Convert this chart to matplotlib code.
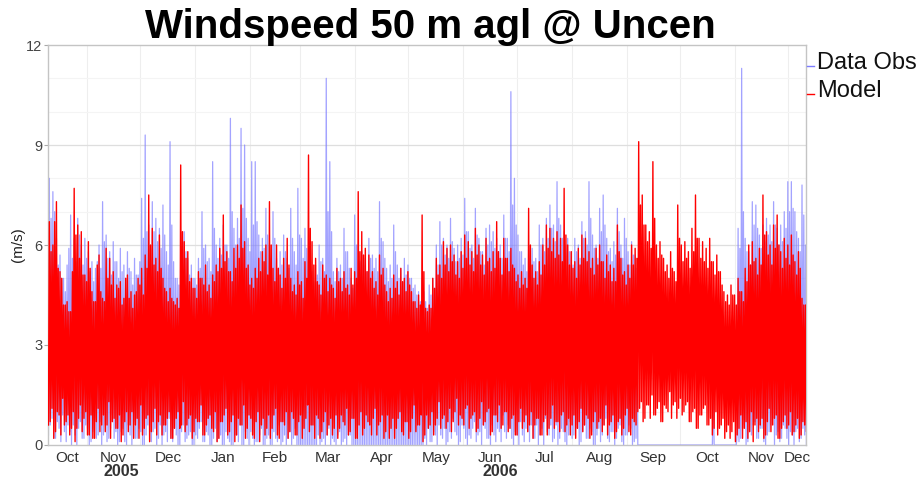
import numpy as np
import matplotlib
matplotlib.use('Agg')
import matplotlib.pyplot as plt
import matplotlib.dates as mdates
import matplotlib.transforms as mtransforms
from matplotlib.lines import Line2D
from datetime import date

plt.rcParams['font.family'] = ['Liberation Sans', 'DejaVu Sans']

# ---------------- data (2-day bins) ----------------
START = date(2005, 10, 10)
END = date(2006, 12, 11)
BIN_DAYS = 2

# Model: per 2-day bin, main peak / trough and secondary peak / trough (m/s)
MODEL_HI = [
    6.7, 6.0, 7.3, 5.2, 4.2, 4.3, 4.0, 7.7, 6.6, 6.4,
    5.1, 6.1, 4.6, 4.3, 5.7, 4.4, 5.9, 5.6, 5.2, 4.8,
    4.9, 4.4, 5.1, 4.6, 4.5, 5.0, 5.3, 5.7, 7.5, 6.5,
    5.6, 6.3, 5.0, 4.6, 4.7, 4.3, 4.4, 8.4, 6.1, 5.8,
    5.0, 4.7, 5.2, 5.0, 5.4, 4.8, 5.1, 5.4, 5.9, 6.9,
    5.8, 5.2, 5.9, 6.0, 7.2, 6.1, 5.4, 5.0, 5.3, 5.6,
    5.8, 6.0, 7.3, 5.3, 6.0, 5.1, 5.6, 6.2, 5.0, 4.8,
    5.2, 4.9, 5.5, 8.7, 6.1, 5.6, 4.8, 5.4, 5.1, 5.0,
    4.7, 5.3, 5.0, 5.2, 4.8, 5.3, 5.2, 7.6, 6.4, 5.9,
    5.7, 5.2, 4.9, 5.7, 5.3, 4.6, 4.7, 5.1, 4.9, 5.3,
    5.0, 5.2, 4.6, 4.3, 4.5, 6.9, 4.1, 4.2, 5.0, 5.6,
    5.4, 6.1, 5.9, 6.0, 5.7, 5.5, 5.8, 6.3, 6.1, 5.8,
    6.5, 6.0, 5.7, 6.2, 5.6, 5.8, 6.7, 5.6, 6.2, 5.6,
    5.9, 5.3, 5.1, 5.2, 5.0, 7.1, 5.4, 5.2, 5.5, 6.0,
    6.6, 6.5, 6.2, 6.4, 6.2, 7.7, 6.0, 5.8, 5.5, 5.9,
    6.3, 6.2, 5.8, 5.6, 5.9, 6.0, 5.5, 5.7, 5.4, 5.3,
    6.6, 5.6, 5.2, 5.4, 6.0, 5.9, 9.1, 7.5, 6.6, 6.4,
    8.5, 6.0, 6.1, 5.6, 5.4, 5.8, 5.2, 7.2, 6.0, 6.1,
    5.8, 6.5, 7.5, 6.2, 6.1, 5.9, 6.2, 5.5, 5.7, 5.2,
    4.6, 4.5, 4.8, 4.5, 5.0, 4.6, 5.3, 6.0, 6.1, 5.6,
    5.9, 7.5, 6.4, 6.0, 6.6, 6.9, 5.8, 6.2, 6.0, 6.3,
    5.5, 5.8, 4.4, 4.2,
]
MODEL_LO = [
    0.6, 1.1, 0.4, 0.9, 1.4, 0.7, 0.3, 1.0, 0.5, 1.2,
    0.8, 0.3, 0.9, 0.2, 1.1, 0.6, 0.4, 1.3, 0.7, 0.5,
    0.9, 0.3, 1.0, 0.6, 0.2, 0.8, 1.2, 0.5, 0.9, 0.4,
    1.1, 0.7, 0.3, 0.6, 1.0, 0.2, 0.8, 0.5, 1.3, 0.6,
    0.9, 0.4, 0.7, 1.2, 0.3, 0.8, 0.5, 1.0, 0.2, 0.7,
    1.1, 0.4, 0.9, 0.3, 0.6, 1.2, 0.5, 0.8, 0.2, 1.0,
    0.6, 0.3, 0.9, 0.5, 1.1, 0.2, 0.7, 1.0, 0.4, 0.8,
    0.3, 0.9, 0.5, 1.2, 0.6, 0.2, 0.8, 0.4, 1.0, 0.6,
    0.3, 0.9, 0.5, 0.7, 1.1, 0.4, 0.8, 0.2, 1.0, 0.5,
    0.7, 0.3, 1.1, 0.6, 0.9, 0.4, 0.2, 0.8, 0.5, 1.0,
    0.3, 0.7, 0.4, 1.2, 0.6, 0.9, 0.3, 0.5, 1.0, 0.6,
    1.3, 0.8, 0.5, 1.1, 0.7, 1.4, 0.9, 0.6, 1.2, 0.8,
    1.0, 0.5, 1.3, 0.7, 1.1, 0.4, 0.9, 1.2, 0.6, 1.0,
    0.5, 0.9, 0.3, 1.1, 0.7, 0.4, 1.0, 0.6, 0.8, 0.3,
    0.9, 0.5, 1.2, 0.7, 0.4, 1.0, 0.6, 0.3, 0.9, 0.5,
    1.1, 0.6, 0.8, 0.3, 1.0, 0.7, 0.4, 1.2, 0.6, 0.9,
    0.4, 0.8, 0.5, 1.1, 0.3, 0.7, 1.0, 1.3, 0.8, 1.2,
    1.5, 0.9, 1.3, 0.7, 1.1, 1.6, 1.2, 0.8, 1.4, 1.0,
    1.3, 0.7, 1.1, 0.5, 0.9, 1.2, 0.6, 0.3, 1.0, 0.5,
    0.8, 0.4, 0.2, 0.7, 0.3, 0.9, 0.5, 0.2, 1.0, 0.6,
    0.4, 0.8, 0.3, 1.1, 0.6, 0.9, 0.2, 0.7, 0.5, 1.0,
    0.4, 0.8, 0.3, 0.6,
]
MODEL_HI2 = [
    5.8, 6.7, 5.3, 5.0, 4.2, 4.0, 5.2, 6.3, 5.6, 5.1,
    4.9, 5.3, 4.3, 5.4, 4.6, 4.3, 5.0, 4.8, 4.4, 4.7,
    4.2, 5.0, 4.4, 4.1, 4.6, 4.8, 4.5, 5.3, 6.0, 5.4,
    5.2, 5.3, 4.7, 4.3, 4.4, 4.2, 4.1, 6.4, 5.6, 4.9,
    4.7, 4.4, 5.0, 4.8, 4.6, 4.4, 4.9, 5.2, 5.3, 5.5,
    5.2, 4.9, 5.3, 5.6, 5.9, 5.3, 4.8, 4.7, 5.0, 5.2,
    5.5, 5.1, 6.0, 4.9, 5.3, 4.7, 5.0, 5.4, 4.6, 4.5,
    4.8, 4.4, 5.0, 6.5, 5.4, 4.9, 4.5, 5.0, 4.6, 4.8,
    4.4, 4.9, 4.6, 4.7, 4.5, 4.8, 5.0, 5.8, 5.7, 5.2,
    5.0, 4.7, 4.5, 5.1, 4.8, 4.3, 4.4, 4.7, 4.5, 4.9,
    4.6, 4.8, 4.3, 4.1, 4.2, 5.2, 4.0, 4.1, 4.7, 5.1,
    5.0, 5.4, 5.2, 5.5, 5.1, 5.0, 5.3, 5.6, 5.4, 5.2,
    5.7, 5.4, 5.1, 5.5, 5.2, 5.3, 5.8, 5.1, 5.6, 5.2,
    5.4, 4.9, 4.7, 4.8, 4.7, 6.0, 5.0, 4.8, 5.1, 5.4,
    5.9, 5.8, 5.6, 5.7, 5.5, 6.3, 5.4, 5.3, 5.0, 5.4,
    5.6, 5.5, 5.3, 5.1, 5.4, 5.5, 5.0, 5.2, 4.9, 4.9,
    5.8, 5.1, 4.8, 5.0, 5.4, 5.6, 7.2, 6.6, 6.1, 5.9,
    6.8, 5.6, 5.7, 5.2, 5.0, 5.3, 4.9, 6.2, 5.5, 5.6,
    5.3, 5.8, 6.2, 5.6, 5.5, 5.3, 5.5, 5.1, 5.2, 4.8,
    4.3, 4.2, 4.5, 4.2, 4.6, 4.3, 4.9, 5.4, 5.5, 5.1,
    5.4, 6.3, 5.7, 5.4, 5.9, 6.0, 5.3, 5.6, 5.4, 5.7,
    5.1, 5.3, 4.2, 4.0,
]
MODEL_LO2 = [
    0.7, 0.2, 1.0, 0.3, 0.6, 0.9, 0.5, 0.1, 0.8, 0.4,
    1.0, 0.3, 0.2, 0.7, 0.4, 0.9, 0.6, 0.2, 0.8, 0.5,
    0.1, 0.7, 0.4, 1.0, 0.6, 0.2, 0.3, 0.8, 0.1, 0.7,
    0.3, 0.9, 0.6, 0.8, 0.2, 0.5, 1.0, 0.6, 0.4, 0.8,
    0.2, 0.8, 0.7, 0.3, 0.6, 0.9, 0.4, 0.1, 0.7, 0.9,
    0.3, 0.7, 0.1, 0.8, 0.6, 0.2, 0.9, 0.3, 0.7, 0.1,
    0.8, 0.5, 0.2, 0.9, 0.3, 0.7, 0.6, 0.2, 1.0, 0.3,
    0.7, 0.2, 0.8, 0.4, 0.6, 0.9, 0.2, 0.7, 0.3, 0.8,
    0.5, 0.2, 0.9, 0.6, 0.3, 0.8, 0.2, 0.6, 0.3, 0.9,
    0.6, 0.8, 0.3, 0.7, 0.2, 0.9, 0.5, 0.2, 0.8, 0.4,
    0.7, 0.2, 0.8, 0.4, 0.6, 0.1, 0.9, 0.6, 0.3, 0.8,
    0.5, 0.9, 0.7, 0.4, 1.0, 0.6, 0.8, 1.1, 0.5, 0.9,
    0.4, 0.8, 0.6, 1.0, 0.3, 0.9, 0.7, 0.5, 1.0, 0.4,
    0.8, 0.3, 0.7, 0.5, 0.9, 0.6, 0.2, 0.8, 0.3, 0.7,
    0.3, 0.8, 0.5, 0.7, 0.9, 0.4, 0.8, 0.6, 0.2, 0.7,
    0.4, 0.9, 0.2, 0.7, 0.5, 0.8, 0.6, 0.3, 0.7, 0.2,
    0.7, 0.3, 0.9, 0.4, 0.8, 0.6, 1.1, 0.7, 1.2, 0.8,
    0.9, 1.1, 0.7, 1.2, 1.0, 0.8, 1.3, 1.1, 0.9, 1.2,
    0.7, 1.0, 0.5, 0.9, 1.1, 0.6, 0.8, 0.5, 0.3, 0.6,
    0.2, 0.6, 0.4, 0.1, 0.5, 0.2, 0.7, 0.4, 0.1, 0.8,
    0.6, 0.2, 0.7, 0.4, 0.8, 0.2, 0.5, 0.9, 0.6, 0.3,
    0.6, 0.2, 0.7, 0.4,
]

# Observations: same layout; 0 where the record is empty
OBS_HI = [
    8.0, 7.6, 6.2, 5.7, 5.0, 5.4, 6.9, 6.2, 6.8, 6.0,
    6.2, 5.8, 5.5, 5.3, 6.0, 7.3, 6.3, 5.8, 6.1, 5.5,
    5.9, 5.4, 5.8, 5.2, 5.6, 5.1, 7.4, 9.3, 6.6, 7.3,
    6.8, 6.5, 7.2, 5.8, 9.1, 5.5, 5.0, 6.0, 6.4, 5.6,
    5.4, 5.0, 5.6, 7.0, 6.0, 5.6, 8.5, 6.0, 6.2, 6.6,
    6.0, 9.8, 6.5, 6.8, 9.5, 9.0, 6.2, 8.5, 8.5, 6.3,
    6.2, 7.1, 6.0, 7.0, 5.6, 5.8, 6.3, 5.6, 7.1, 5.8,
    7.7, 6.2, 6.5, 5.5, 5.2, 5.4, 6.0, 5.6, 11.0, 8.5,
    5.2, 5.6, 5.4, 6.5, 5.8, 5.0, 6.9, 6.0, 5.8, 5.6,
    6.2, 5.7, 5.6, 7.3, 6.1, 5.3, 5.4, 6.6, 5.4, 5.3,
    5.6, 5.4, 5.0, 4.8, 4.6, 5.0, 4.3, 4.8, 5.0, 6.0,
    6.7, 6.2, 6.0, 6.8, 5.9, 6.0, 6.2, 7.4, 6.4, 6.0,
    7.1, 6.2, 5.8, 6.5, 6.6, 6.4, 6.2, 6.0, 6.9, 6.2,
    10.6, 8.0, 6.3, 5.8, 5.6, 6.0, 5.9, 5.6, 6.6, 6.2,
    6.8, 7.2, 6.6, 7.9, 6.6, 6.4, 6.2, 5.8, 6.2, 6.0,
    6.7, 6.4, 7.9, 6.3, 6.0, 7.1, 7.5, 6.2, 5.9, 6.1,
    7.1, 6.0, 6.8, 5.8, 6.1, 5.7, 0.0, 0.0, 0.0, 0.0,
    0.0, 0.0, 0.0, 0.0, 0.0, 0.0, 0.0, 0.0, 0.0, 0.0,
    0.0, 0.0, 0.0, 0.0, 0.0, 0.0, 0.0, 1.8, 0.0, 0.0,
    0.0, 0.0, 0.0, 0.0, 6.5, 11.3, 6.2, 5.8, 7.3, 7.2,
    6.3, 6.6, 6.8, 6.6, 7.3, 6.5, 6.6, 7.0, 7.9, 7.9,
    7.0, 6.2, 7.8, 6.0,
]
OBS_LO = [
    0.3, 0.8, 0.2, 0.5, 0.9, 0.1, 0.4, 0.6, 0.0, 0.7,
    0.2, 0.5, 0.1, 0.8, 0.3, 0.0, 0.6, 0.2, 0.9, 0.4,
    0.1, 0.5, 0.0, 0.3, 0.7, 0.2, 0.4, 0.0, 0.6, 0.1,
    0.5, 0.2, 0.0, 0.4, 0.8, 0.1, 0.3, 0.0, 0.6, 0.2,
    0.4, 0.0, 0.2, 0.7, 0.1, 0.3, 0.0, 0.5, 0.2, 0.0,
    0.4, 0.1, 0.0, 0.3, 0.6, 0.0, 0.2, 0.4, 0.0, 0.1,
    0.5, 0.0, 0.3, 0.0, 0.2, 0.6, 0.1, 0.0, 0.4, 0.2,
    0.0, 0.0, 0.0, 0.0, 0.0, 0.0, 0.3, 0.1, 0.0, 0.5,
    0.2, 0.0, 0.4, 0.1, 0.0, 0.3, 0.0, 0.0, 0.0, 0.0,
    0.0, 0.0, 0.0, 0.0, 0.0, 0.0, 0.0, 0.0, 0.0, 0.0,
    0.0, 0.0, 0.0, 0.0, 0.0, 0.0, 0.2, 0.5, 0.1, 0.3,
    0.6, 0.2, 0.0, 0.4, 0.8, 0.3, 0.1, 0.5, 0.0, 0.2,
    0.7, 0.3, 0.0, 0.5, 0.2, 0.6, 0.1, 0.4, 0.9, 0.2,
    0.5, 0.0, 0.3, 0.7, 0.1, 0.4, 0.6, 0.2, 0.0, 0.5,
    0.8, 0.3, 0.1, 0.6, 0.2, 0.4, 0.0, 0.7, 0.3, 0.5,
    0.1, 0.6, 0.2, 0.4, 0.0, 0.5, 0.3, 0.8, 0.1, 0.4,
    0.2, 0.6, 0.0, 0.3, 0.5, 0.1, 0.0, 0.0, 0.0, 0.0,
    0.0, 0.0, 0.0, 0.0, 0.0, 0.0, 0.0, 0.0, 0.0, 0.0,
    0.0, 0.0, 0.0, 0.0, 0.0, 0.0, 0.0, 0.0, 0.0, 0.0,
    0.0, 0.0, 0.0, 0.0, 0.4, 0.2, 0.6, 0.1, 0.3, 0.7,
    0.2, 0.5, 0.0, 0.4, 0.8, 0.3, 0.1, 0.6, 0.2, 0.4,
    0.0, 0.5, 0.2, 0.3,
]
OBS_HI2 = [
    6.8, 7.0, 5.4, 5.0, 4.6, 5.9, 5.6, 5.5, 6.3, 5.4,
    5.6, 5.2, 4.9, 5.5, 5.3, 6.1, 5.6, 5.1, 5.5, 5.0,
    5.2, 5.0, 5.3, 4.8, 5.1, 5.5, 6.2, 6.4, 5.9, 6.4,
    6.1, 5.9, 6.3, 5.4, 6.6, 5.0, 4.8, 5.6, 5.8, 5.1,
    5.0, 4.8, 5.3, 5.9, 5.5, 5.2, 6.5, 5.6, 5.7, 6.0,
    5.6, 7.0, 6.0, 6.2, 7.1, 6.8, 5.8, 6.6, 6.7, 5.8,
    5.9, 6.3, 5.6, 6.2, 5.3, 5.4, 5.8, 5.3, 6.2, 5.4,
    6.3, 5.6, 5.9, 5.2, 4.9, 5.1, 5.5, 5.2, 7.0, 6.4,
    4.9, 5.2, 5.0, 5.8, 5.3, 4.7, 6.0, 5.5, 5.4, 5.2,
    5.6, 5.3, 5.2, 6.2, 5.6, 4.9, 5.0, 5.8, 5.0, 4.9,
    5.1, 5.0, 4.7, 4.5, 4.3, 4.6, 4.1, 4.5, 4.7, 5.4,
    6.0, 5.7, 5.6, 6.1, 5.5, 5.6, 5.7, 6.4, 5.9, 5.6,
    6.3, 5.8, 5.4, 6.0, 6.1, 5.9, 5.8, 5.6, 6.2, 5.8,
    7.2, 6.6, 5.8, 5.4, 5.2, 5.6, 5.5, 5.2, 6.0, 5.8,
    6.2, 6.5, 6.1, 6.8, 6.2, 6.0, 5.8, 5.4, 5.8, 5.6,
    6.2, 6.0, 6.8, 5.9, 5.6, 6.4, 6.6, 5.8, 5.5, 5.7,
    6.4, 5.6, 6.2, 5.4, 5.7, 5.3, 0.0, 0.0, 0.0, 0.0,
    0.0, 0.0, 0.0, 0.0, 0.0, 0.0, 0.0, 0.0, 0.0, 0.0,
    0.0, 0.0, 0.0, 0.0, 0.0, 0.0, 0.0, 0.0, 0.0, 0.0,
    0.0, 0.0, 0.0, 0.0, 5.9, 7.0, 5.8, 5.4, 6.6, 6.5,
    5.9, 6.1, 6.3, 6.1, 6.6, 6.0, 6.1, 6.5, 7.0, 7.1,
    6.4, 5.8, 6.9, 5.5,
]
OBS_LO2 = [
    0.6, 0.2, 0.7, 0.1, 0.4, 0.6, 0.0, 0.3, 0.5, 0.2,
    0.6, 0.0, 0.4, 0.2, 0.7, 0.3, 0.1, 0.5, 0.2, 0.0,
    0.4, 0.1, 0.6, 0.0, 0.2, 0.5, 0.0, 0.3, 0.1, 0.4,
    0.0, 0.6, 0.3, 0.1, 0.2, 0.5, 0.0, 0.4, 0.1, 0.3,
    0.0, 0.3, 0.5, 0.1, 0.4, 0.0, 0.2, 0.1, 0.3, 0.0,
    0.2, 0.0, 0.3, 0.1, 0.0, 0.4, 0.0, 0.2, 0.1, 0.3,
    0.0, 0.2, 0.0, 0.4, 0.1, 0.0, 0.3, 0.2, 0.0, 0.5,
    0.0, 0.0, 0.0, 0.0, 0.0, 0.0, 0.0, 0.2, 0.3, 0.0,
    0.1, 0.3, 0.0, 0.2, 0.3, 0.0, 0.0, 0.0, 0.0, 0.0,
    0.0, 0.0, 0.0, 0.0, 0.0, 0.0, 0.0, 0.0, 0.0, 0.0,
    0.0, 0.0, 0.0, 0.0, 0.0, 0.0, 0.0, 0.1, 0.4, 0.0,
    0.3, 0.5, 0.1, 0.2, 0.4, 0.0, 0.6, 0.2, 0.3, 0.5,
    0.1, 0.4, 0.6, 0.2, 0.0, 0.3, 0.5, 0.1, 0.4, 0.6,
    0.2, 0.4, 0.0, 0.3, 0.5, 0.1, 0.2, 0.6, 0.3, 0.0,
    0.4, 0.6, 0.2, 0.0, 0.5, 0.1, 0.3, 0.2, 0.6, 0.0,
    0.4, 0.2, 0.5, 0.0, 0.3, 0.1, 0.6, 0.2, 0.4, 0.0,
    0.5, 0.1, 0.3, 0.6, 0.0, 0.2, 0.0, 0.0, 0.0, 0.0,
    0.0, 0.0, 0.0, 0.0, 0.0, 0.0, 0.0, 0.0, 0.0, 0.0,
    0.0, 0.0, 0.0, 0.0, 0.0, 0.0, 0.0, 0.0, 0.0, 0.0,
    0.0, 0.0, 0.0, 0.0, 0.1, 0.5, 0.0, 0.4, 0.6, 0.2,
    0.5, 0.1, 0.3, 0.6, 0.0, 0.4, 0.2, 0.5, 0.0, 0.3,
    0.4, 0.1, 0.5, 0.0,
]

MONTH_LABELS = ['Oct', 'Nov', 'Dec', 'Jan', 'Feb', 'Mar', 'Apr', 'May',
                'Jun', 'Jul', 'Aug', 'Sep', 'Oct', 'Nov', 'Dec']
YEAR_LABELS = ['2005', '2006']
Y_TICKS = [0, 3, 6, 9, 12]
TITLE = 'Windspeed 50 m agl @ Uncen'
SERIES_NAMES = ['Data Obs', 'Model']

# ---------------- build ----------------
arrays = [MODEL_HI, MODEL_LO, MODEL_HI2, MODEL_LO2, OBS_HI, OBS_LO, OBS_HI2, OBS_LO2]
lens = [len(a) for a in arrays]
assert len(set(lens)) == 1, lens
n = lens[0]


def weave(lo, hi, lo2, hi2):
    out = np.empty(4 * len(lo))
    out[0::4] = lo
    out[1::4] = hi
    out[2::4] = lo2
    out[3::4] = hi2
    return out


t0 = mdates.date2num(START)
t_end = mdates.date2num(END)
t = t0 + np.arange(4 * n) * (BIN_DAYS / 4.0) + 0.25

OBS_C = '#7c7cff'
MOD_C = '#ff0000'

fig = plt.figure(figsize=(9.24, 4.79), dpi=100)
ax = fig.add_axes([48 / 924, 1 - 445 / 479, 758 / 924, 400 / 479])

ax.plot(t, weave(OBS_LO, OBS_HI, OBS_LO2, OBS_HI2), color=OBS_C, lw=0.9,
        alpha=0.7, zorder=2)
ax.plot(t, weave(MODEL_LO, MODEL_HI, MODEL_LO2, MODEL_HI2), color=MOD_C,
        lw=1.0, zorder=3)

ax.set_xlim(t0, t_end)
ax.set_ylim(0, 12)

# month boundaries / centres
month_starts = []
y, m = START.year, START.month
while True:
    d = date(y, m, 1)
    if d > END:
        break
    month_starts.append(d)
    m += 1
    if m > 12:
        m = 1
        y += 1
centers = []
edges = []
for i, d in enumerate(month_starts):
    a = max(mdates.date2num(d), t0)
    if i + 1 < len(month_starts):
        b = min(mdates.date2num(month_starts[i + 1]), t_end)
    else:
        nm = date(d.year + (d.month // 12), d.month % 12 + 1, 1)
        b = min(mdates.date2num(nm), t_end)
    centers.append((a + b) / 2)
    if mdates.date2num(d) > t0:
        edges.append(mdates.date2num(d))

for e in edges:
    ax.axvline(e, color='#eeeeee', lw=0.8, zorder=0)
for yv in range(1, 12):
    if yv % 3 == 0:
        ax.axhline(yv, color='#dedede', lw=0.9, zorder=0)
    else:
        ax.axhline(yv, color='#f4f4f4', lw=0.8, zorder=0)

ax.set_xticks(centers)
ax.set_xticklabels(MONTH_LABELS[:len(centers)])
ax.tick_params(axis='x', length=0, labelsize=11, labelcolor='#333333', pad=4)
ax.set_yticks(Y_TICKS)
ax.set_yticklabels([str(v) for v in Y_TICKS])
ax.tick_params(axis='y', length=3, color='#aaaaaa', labelsize=10.5,
               labelcolor='#444444', pad=1)

# year labels centred on visible portion of each year
trans = mtransforms.blended_transform_factory(ax.transData, ax.transAxes)
for lbl in YEAR_LABELS:
    yr = int(lbl)
    a = max(mdates.date2num(date(yr, 1, 1)), t0)
    b = min(mdates.date2num(date(yr + 1, 1, 1)), t_end)
    ax.text((a + b) / 2, -0.065, lbl, transform=trans, ha='center', va='center',
            fontsize=11.5, fontweight='bold', color='#333333')

for s in ax.spines.values():
    s.set_color('#c4c4c4')
    s.set_linewidth(1.0)

fig.text(430 / 924, 1 - 27 / 479, TITLE, ha='center', va='center',
         fontsize=29, fontweight='bold', color='black')
fig.text(18 / 924, 1 - 245 / 479, '(m/s)', rotation=90, ha='center',
         va='center', fontsize=11, color='#222222')

# legend at right
for name, col, ypx in [(SERIES_NAMES[0], OBS_C, 63), (SERIES_NAMES[1], MOD_C, 91)]:
    fig.add_artist(Line2D([807 / 924, 814 / 924], [1 - (ypx + 3) / 479] * 2,
                          color=col, lw=1.0, transform=fig.transFigure))
    fig.text(817 / 924, 1 - ypx / 479, name, ha='left', va='center',
             fontsize=17, color='#111111')

fig.savefig('out.png', dpi=100)
